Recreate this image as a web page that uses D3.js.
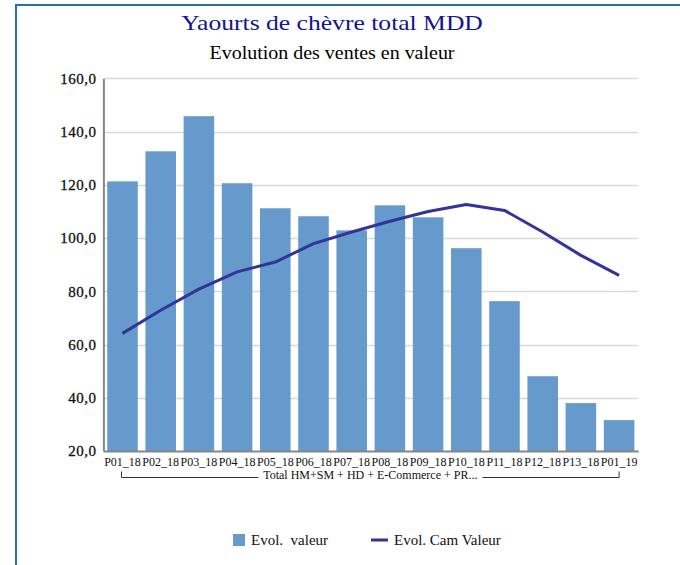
<!DOCTYPE html>
<html>
<head>
<meta charset="utf-8">
<script src="https://cdn.jsdelivr.net/npm/d3@7"></script>
<style>
  html, body { margin: 0; padding: 0; background: #fff; }
  svg { display: block; }
  text { font-family: "Liberation Serif", serif; }
</style>
</head>
<body>
<svg id="chart" width="680" height="565"></svg>
<script>
// Periods (P = 4-week period, suffix = year)
const periods = ["P01_18","P02_18","P03_18","P04_18","P05_18","P06_18","P07_18",
                 "P08_18","P09_18","P10_18","P11_18","P12_18","P13_18","P01_19"];
// Evol. valeur (bars)
const evolValeur = [121.3, 132.6, 145.8, 120.6, 111.2, 108.2, 102.9,
                    112.3, 107.8, 96.2, 76.3, 48.1, 38.0, 31.6];
// Evol. Cam Valeur (line)
const evolCamValeur = [64.2, 72.9, 80.8, 87.3, 91.0, 97.9, 102.3,
                       106.3, 110.0, 112.6, 110.4, 102.3, 93.5, 86.0];
const yTicks = [20, 40, 60, 80, 100, 120, 140, 160];
const groupLabel = "Total HM+SM + HD + E-Commerce + PR...";
const title = "Yaourts de chèvre total MDD";
const subtitle = "Evolution des ventes en valeur";
const legendLabels = ["Evol.  valeur", "Evol. Cam Valeur"];

const svg = d3.select("#chart");
const barColor = "#6699cc";
const lineColor = "#333399";
const serif = "Liberation Serif, serif";

// frame
svg.append("path")
  .attr("d", "M16,566 L16,5 L690,5")
  .attr("fill", "none")
  .attr("stroke", "#2b6cb8")
  .attr("stroke-width", 2);

// text stretched horizontally (wide serif look)
function wideText(parent, x, y, sx, size, anchor, txt) {
  return parent.append("g").attr("transform", `translate(${x},${y}) scale(${sx},1)`)
    .append("text").attr("x", 0).attr("y", 0)
    .attr("font-family", serif)
    .attr("text-anchor", anchor).attr("font-size", size).text(txt);
}

// titles
wideText(svg, 332, 30, 1.22, 21, "middle", title).attr("fill", "#14148c");
wideText(svg, 332, 59, 1.11, 18, "middle", subtitle).attr("fill", "#000");

const plot = { left: 103.4, right: 638.2, top: 78.4, bottom: 451 };

const x = d3.scaleBand().domain(periods)
  .range([plot.left, plot.right]).paddingInner(0.2).paddingOuter(0.1);
const y = d3.scaleLinear().domain([20, 160]).range([plot.bottom, plot.top]);

// gridlines
svg.append("g").selectAll("line").data(yTicks.filter(d => d > 20)).join("line")
  .attr("x1", plot.left).attr("x2", plot.right)
  .attr("y1", d => Math.round(y(d)) + 0.5).attr("y2", d => Math.round(y(d)) + 0.5)
  .attr("stroke", "#d9d9d9").attr("stroke-width", 1.3);

// y axis
const yAxis = d3.axisLeft(y).tickValues(yTicks)
  .tickFormat(d => d3.format(".1f")(d).replace(".", ","))
  .tickSize(0).tickPadding(7);
const gy = svg.append("g").attr("transform", `translate(${plot.left},0)`).call(yAxis)
  .attr("font-family", serif).attr("font-size", 15);
gy.select(".domain").attr("stroke", "#868686").attr("stroke-width", 2);
gy.selectAll(".tick text").attr("fill", "#111")
  .attr("stroke", "#111").attr("stroke-width", 0.3)
  .attr("letter-spacing", "0.5px");

// bars
svg.append("g").selectAll("rect").data(periods).join("rect")
  .attr("x", d => x(d))
  .attr("width", x.bandwidth())
  .attr("y", (d, i) => y(evolValeur[i]))
  .attr("height", (d, i) => y(20) - y(evolValeur[i]))
  .attr("fill", barColor);

// x axis
const xAxis = d3.axisBottom(x).tickSize(0).tickPadding(6);
const gx = svg.append("g").attr("transform", `translate(0,${plot.bottom})`).call(xAxis)
  .attr("font-family", serif).attr("font-size", 12);
gx.select(".domain").attr("stroke", "#868686").attr("stroke-width", 2);
gx.selectAll(".tick text").attr("fill", "#111");

// group bracket under the categories
const bx0 = x(periods[0]) + x.bandwidth() / 2 - 1;
const bx1 = x(periods[periods.length - 1]) + x.bandwidth() / 2;
const cx = (bx0 + bx1) / 2;
const gText = wideText(svg, cx, 479, 1.0, 12, "middle", groupLabel).attr("fill", "#111");
const tw = gText.node().getComputedTextLength();
const by = 477.5, bTop = 471.5;
svg.append("path")
  .attr("d", `M${bx0},${bTop} V${by} H${cx - tw / 2 - 5} M${cx + tw / 2 + 5},${by} H${bx1} V${bTop}`)
  .attr("fill", "none").attr("stroke", "#333").attr("stroke-width", 1);

// line series
const line = d3.line()
  .x((d, i) => x(periods[i]) + x.bandwidth() / 2)
  .y(d => y(d));
svg.append("path").datum(evolCamValeur)
  .attr("d", line)
  .attr("fill", "none").attr("stroke", lineColor)
  .attr("stroke-width", 3).attr("stroke-linejoin", "round");

// legend
const lg = svg.append("g").attr("font-family", serif).attr("font-size", 15);
lg.append("rect").attr("x", 233).attr("y", 534).attr("width", 12).attr("height", 12).attr("fill", barColor);
lg.append("text").attr("x", 251).attr("y", 545).attr("fill", "#111")
  .attr("xml:space", "preserve").style("white-space", "pre").text(legendLabels[0]);
lg.append("line").attr("x1", 371).attr("x2", 388).attr("y1", 540).attr("y2", 540)
  .attr("stroke", lineColor).attr("stroke-width", 3);
lg.append("text").attr("x", 394).attr("y", 545).attr("fill", "#111")
  .text(legendLabels[1]);
</script>
</body>
</html>
